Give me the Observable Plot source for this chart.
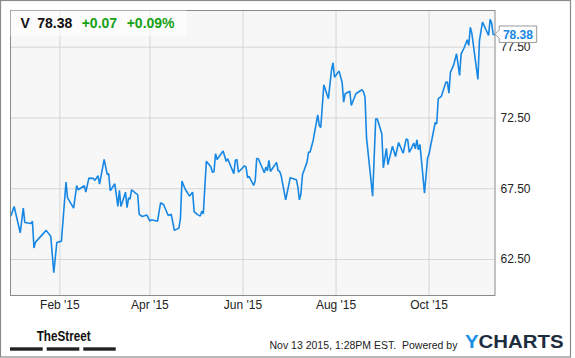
<!DOCTYPE html>
<html><head><meta charset="utf-8">
<script src="https://cdn.jsdelivr.net/npm/d3@7"></script>
<script src="https://cdn.jsdelivr.net/npm/@observablehq/plot@0.6"></script>
<style>body{margin:0;background:#fff} svg{display:block}</style>
</head><body><div id="chart"></div>
<script>
const ticker = "V";
const lastPrice = 78.38;
const change = "+0.07";
const changePct = "+0.09%";
const stamp = "Nov 13 2015, 1:28PM EST.  Powered by";

// days since 2015-01-01
const dayOffsets = [-1,1,5,7,8,12,13,14,15,22,25,27,29,32,35,36,40,42,43,47,48,50,53,54,56,57,60,62,63,64,67,69,70,71,74,75,76,77,78,81,82,83,85,88,90,91,95,97,99,102,104,106,109,110,111,113,116,118,119,121,123,124,125,127,130,131,132,133,134,138,140,141,145,146,147,148,152,153,154,155,158,159,160,161,165,166,167,168,169,173,174,175,176,179,182,186,187,188,189,190,193,194,195,197,200,201,202,204,207,209,210,211,214,216,217,218,221,222,225,229,230,231,232,236,238,239,242,243,245,246,249,251,253,256,258,259,260,262,263,264,265,266,267,270,272,273,277,278,279,281,284,285,286,287,289,291,293,294,296,298,299,300,301,305,306,308,310,312,313,314,315,316];
const prices = [65.61,66.25,64.39,66.13,65.12,65.05,65.21,63.31,63.73,64.56,64.15,61.57,63.71,63.80,67.97,66.86,66.13,67.73,67.43,67.71,67.26,68.25,68.23,68.09,68.42,67.82,69.57,68.51,68.56,67.36,67.85,66.25,67.38,66.25,67.26,66.16,66.86,66.77,67.43,67.15,67.08,65.69,65.54,65.64,65.21,65.31,65.21,66.51,66.37,65.61,65.69,64.56,64.72,65.38,68.04,67.50,66.98,67.26,65.88,65.69,65.57,65.92,65.73,69.45,69.03,68.67,68.70,69.97,69.57,70.16,69.43,69.62,68.56,69.50,69.57,68.67,69.12,69.03,68.28,68.37,67.73,68.04,69.64,69.64,68.63,69.03,68.77,69.50,68.72,69.36,68.79,68.74,68.44,66.72,68.28,68.14,67.61,66.72,67.15,68.49,69.38,70.09,70.09,70.91,72.71,71.97,71.83,74.85,73.86,75.85,76.40,75.38,75.81,75.01,73.62,74.21,74.39,73.38,74.21,74.49,74.34,73.97,71.09,66.98,72.42,72.44,71.38,68.98,70.36,69.20,70.50,69.78,70.77,70.01,71.02,70.96,70.06,70.49,70.72,70.32,70.96,70.25,70.63,67.19,69.66,69.97,72.18,72.09,73.86,74.02,75.03,75.03,74.25,75.73,76.21,77.03,75.50,77.03,77.46,78.02,77.62,78.91,78.49,75.22,77.97,79.27,78.80,78.33,79.46,79.20,78.40,78.38];

const tickDates = ["2015-02-01","2015-04-01","2015-06-01","2015-08-01","2015-10-01"];
const tickLabels = ["Feb '15","Apr '15","Jun '15","Aug '15","Oct '15"];
const yTicks = [62.5, 67.5, 72.5, 77.5];

const DAY = 864e5;
const base = Date.UTC(2015, 0, 1);
const data = dayOffsets.map((d, i) => ({date: new Date(base + d * DAY), price: prices[i]}));
const xTicks = tickDates.map(s => new Date(s + "T00:00:00Z"));
const labelOf = new Map(xTicks.map((d, i) => [+d, tickLabels[i]]));

const FONT = "'Liberation Sans', Arial, Helvetica, sans-serif";

const chart = Plot.plot({
  width: 575, height: 358,
  marginLeft: 10, marginTop: 10, marginRight: 80.5, marginBottom: 63,
  style: {fontFamily: FONT, background: "#fff", overflow: "visible"},
  x: {type: "utc", domain: [new Date(base - 1.38 * DAY), new Date(base + 316.2 * DAY)]},
  y: {domain: [59.96, 80.09]},
  marks: [
    Plot.frame({fill: "#f7f7f7", stroke: null}),
    Plot.gridY(yTicks, {stroke: "#d5d5d5", strokeOpacity: 1}),
    Plot.gridX(xTicks, {stroke: "#d5d5d5", strokeOpacity: 1}),
    Plot.lineY(data, {x: "date", y: "price", stroke: "#1787e4", strokeWidth: 1.6, strokeLinejoin: "miter"}),
    Plot.frame({stroke: "#8a8a8a", strokeWidth: 1}),
    Plot.axisY(yTicks, {anchor: "right", label: null, tickSize: 0, tickPadding: 5.5, tickFormat: d => d.toFixed(2), fontSize: 12, fill: "#222"}),
    Plot.axisX(xTicks, {anchor: "bottom", label: null, tickSize: 0, tickPadding: 5, tickFormat: d => labelOf.get(+d), fontSize: 12, fill: "#222"})
  ]
});

const svg = d3.select(chart);
const xs = chart.scale("x"), ys = chart.scale("y");

// outer border
svg.append("rect").attr("x", 0.5).attr("y", 0.5).attr("width", 570).attr("height", 356.5)
  .attr("fill", "none").attr("stroke", "#8a8a8a").attr("stroke-width", 1.2);

// header box
svg.append("rect").attr("x", 10.5).attr("y", 10.5).attr("width", 176).attr("height", 26)
  .attr("fill", "#fff").attr("fill-opacity", 0.6);
const hdr = svg.append("g").attr("font-family", FONT).attr("font-weight", "bold").attr("font-size", 14).attr("text-anchor", "start");
hdr.append("text").attr("x", 20.5).attr("y", 28.3).attr("fill", "#111").text(ticker);
hdr.append("text").attr("x", 37.3).attr("y", 28.3).attr("fill", "#111").text(lastPrice.toFixed(2));
hdr.append("text").attr("x", 81.7).attr("y", 28.3).attr("fill", "#16a016").text(change);
hdr.append("text").attr("x", 126.7).attr("y", 28.3).attr("fill", "#16a016").text(changePct);

// last price tag
const lastPt = data[data.length - 1];
const px = xs.apply(lastPt.date), py = ys.apply(lastPt.price);
const bx = px + 5, bw = 37.5, bh = 16.5, tipX = px + 0.8;
const boxTop = py - bh / 2, boxBot = py + bh / 2;
svg.append("path")
  .attr("d", `M${bx},${boxTop}L${bx + bw},${boxTop}L${bx + bw},${boxBot}L${bx},${boxBot}L${bx},${py + 4}L${tipX},${py}L${bx},${py - 4}Z`)
  .attr("fill", "#fff").attr("stroke", "#999").attr("stroke-width", 1);
svg.append("text").attr("x", bx + bw / 2).attr("y", py + 4.3).attr("text-anchor", "middle")
  .attr("font-family", FONT).attr("font-weight", "bold").attr("font-size", 12).attr("fill", "#1787e4")
  .text(lastPt.price.toFixed(2));

// TheStreet logo
svg.append("text").attr("x", 36.7).attr("y", 341.3).attr("text-anchor", "start").attr("font-family", FONT).attr("font-weight", "bold")
  .attr("font-size", 15).attr("fill", "#111").attr("textLength", 54).attr("lengthAdjust", "spacingAndGlyphs")
  .text("TheStreet");
[[10, 42.7], [46.7, 79.3], [83.3, 115.7]].forEach(([a, b]) =>
  svg.append("rect").attr("x", a).attr("y", 347.3).attr("width", b - a).attr("height", 3.4).attr("fill", "#222"));

// footer stamp
svg.append("text").attr("x", 269.5).attr("y", 349).attr("text-anchor", "start")
  .attr("font-family", FONT).attr("font-size", 10.5).attr("fill", "#222").attr("xml:space", "preserve")
  .text(stamp);

// YCHARTS logo
const yc = svg.append("text").attr("x", 465).attr("y", 348.3).attr("text-anchor", "start").attr("font-family", FONT)
  .attr("font-weight", "bold").attr("font-size", 19).attr("textLength", 98.6).attr("lengthAdjust", "spacingAndGlyphs");
yc.append("tspan").attr("fill", "#1a8fe3").text("Y");
yc.append("tspan").attr("fill", "#1d2d3e").text("CHARTS");

document.getElementById("chart").appendChild(chart);
</script>
</body></html>
